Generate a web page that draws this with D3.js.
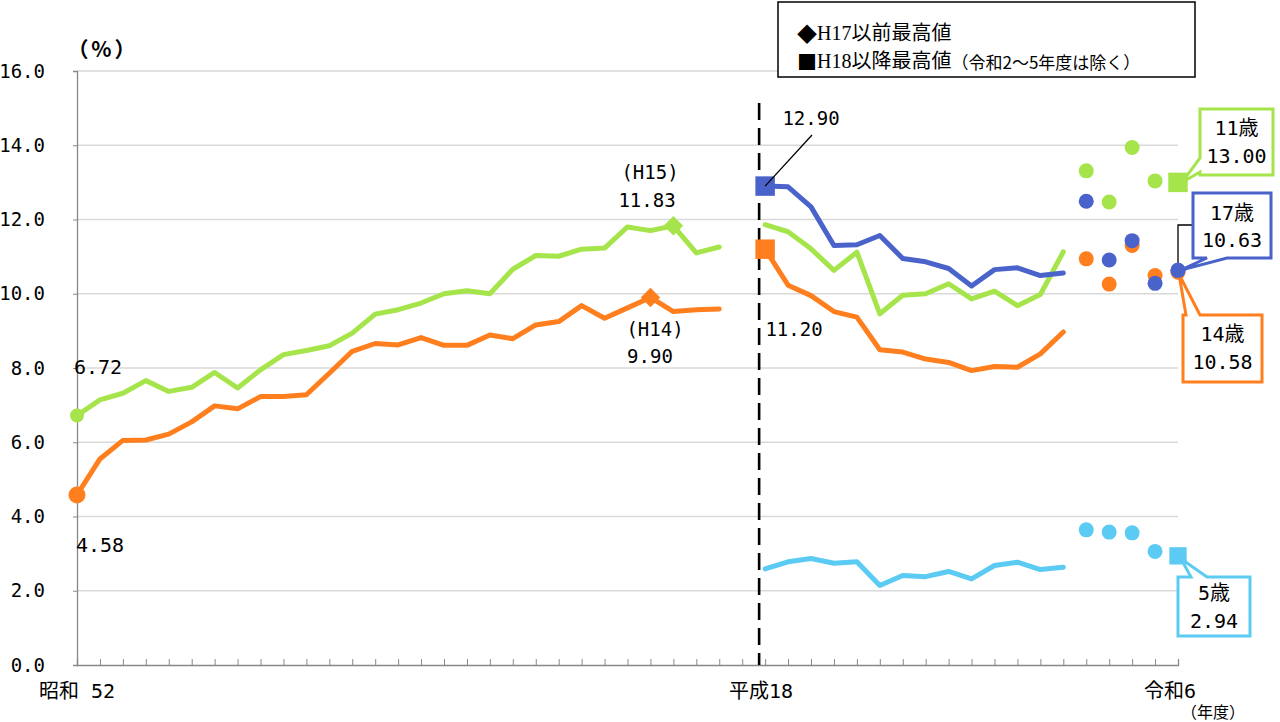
<!DOCTYPE html>
<html><head><meta charset="utf-8">
<script src="https://cdn.jsdelivr.net/npm/d3@7"></script>
<style>
html,body{margin:0;padding:0;background:#fff;}
text{font-family:"DejaVu Sans Mono","Noto Sans CJK JP",monospace;fill:#000;}
</style></head><body>
<svg id="chart" width="1280" height="722"></svg>
<script>
// ---- categories (fiscal years); "gap" is the empty slot between H17 and H18 ----
const slots = ["1977","1978","1979","1980","1981","1982","1983","1984","1985","1986","1987","1988","1989","1990","1991","1992","1993","1994","1995","1996","1997","1998","1999","2000","2001","2002","2003","2004","2005","gap","2006","2007","2008","2009","2010","2011","2012","2013","2014","2015","2016","2017","2018","2019","2020","2021","2022","2023","2024"];
const yearsPre  = ["1977","1978","1979","1980","1981","1982","1983","1984","1985","1986","1987","1988","1989","1990","1991","1992","1993","1994","1995","1996","1997","1998","1999","2000","2001","2002","2003","2004","2005"];
const yearsPost = ["2006","2007","2008","2009","2010","2011","2012","2013","2014","2015","2016","2017","2018","2019"];
const yearsCovid = ["2020","2021","2022","2023"];
const yearLatest = "2024";

// ---- series values (%) ----
const age11Pre = [6.72,7.14,7.32,7.66,7.37,7.48,7.88,7.46,7.95,8.36,8.47,8.60,8.94,9.45,9.57,9.75,10.00,10.08,10.00,10.66,11.03,11.01,11.20,11.23,11.80,11.70,11.83,11.10,11.26];
const age14Pre = [4.58,5.55,6.05,6.06,6.22,6.55,6.98,6.90,7.23,7.23,7.28,7.86,8.45,8.66,8.62,8.82,8.61,8.61,8.89,8.79,9.16,9.25,9.68,9.34,9.62,9.90,9.52,9.57,9.59];
const age11Post = [11.86,11.67,11.21,10.63,11.12,9.46,9.96,10.00,10.27,9.86,10.07,9.68,9.98,11.13];
const age14Post = [11.20,10.23,9.95,9.52,9.37,8.49,8.43,8.24,8.15,7.93,8.04,8.02,8.38,8.97];
const age17Post = [12.90,12.88,12.34,11.30,11.32,11.57,10.95,10.86,10.68,10.21,10.65,10.70,10.49,10.56];
const age5Post  = [2.59,2.78,2.87,2.74,2.78,2.14,2.41,2.38,2.52,2.32,2.68,2.77,2.57,2.63];
const age11Covid = [13.31,12.47,13.94,13.04];
const age14Covid = [10.94,10.26,11.30,10.49];
const age17Covid = [12.49,10.91,11.43,10.28];
const age5Covid  = [3.64,3.58,3.56,3.06];
const latest = {a11:13.00, a14:10.58, a17:10.63, a5:2.94};

const yTicks = [0,2,4,6,8,10,12,14,16];
const yTickLabels = ["0.0","2.0","4.0","6.0","8.0","10.0","12.0","14.0","16.0"];

const colors = {a11:"#A6E44B", a14:"#FF7F1F", a17:"#4A63CB", a5:"#5CCBF3"};

// ---- scales ----
const svg = d3.select("#chart");
const x = d3.scalePoint().domain(slots).range([77,1178]).padding(0);
const y = d3.scaleLinear().domain([0,16]).range([665,71]);

// gridlines
svg.append("g").selectAll("line").data(yTicks.filter(d=>d>0)).join("line")
  .attr("x1",77).attr("x2",1178).attr("y1",d=>y(d)).attr("y2",d=>y(d))
  .attr("stroke","#d9d9d9").attr("stroke-width",1.3);

// y axis
const yAxis = svg.append("g").attr("transform","translate(77,0)")
  .call(d3.axisLeft(y).tickValues(yTicks).tickSize(4).tickPadding(28)
    .tickFormat((d,i)=>yTickLabels[i]));
yAxis.select(".domain").attr("stroke","#888").attr("stroke-width",1.3);
yAxis.selectAll(".tick line").attr("stroke","#888");
yAxis.selectAll(".tick text").attr("font-size",19).attr("font-family","DejaVu Sans Mono").attr("fill","#000");

// x axis (ticks inward)
const xAxis = svg.append("g").attr("transform","translate(0,665)")
  .call(d3.axisBottom(x).tickSize(-6).tickFormat(""));
xAxis.select(".domain").attr("stroke","#888").attr("stroke-width",1.3);
xAxis.selectAll(".tick line").attr("stroke","#888");

// x labels
svg.append("text").attr("x",x("1977")).attr("y",691).attr("text-anchor","middle")
  .attr("dominant-baseline","central").attr("font-size",20).text("昭和 52");
svg.append("text").attr("x",x("2006")-4).attr("y",691).attr("text-anchor","middle")
  .attr("dominant-baseline","central").attr("font-size",20).text("平成18");
svg.append("text").attr("x",x("2024")-8).attr("y",691).attr("text-anchor","middle")
  .attr("dominant-baseline","central").attr("font-size",20).text("令和6");
svg.append("text").attr("x",1213).attr("y",712).attr("text-anchor","middle")
  .attr("dominant-baseline","central").attr("font-size",16).text("（年度）");
svg.append("text").attr("x",103).attr("y",48).attr("text-anchor","middle")
  .attr("dominant-baseline","central").attr("font-size",21).attr("font-weight","bold")
  .attr("letter-spacing",3).style("font-family","'Noto Sans CJK JP'").text("（%）");

// dashed separator
svg.append("line").attr("x1",x("2006")-6).attr("x2",x("2006")-6)
  .attr("y1",103).attr("y2",665).attr("stroke","#000").attr("stroke-width",2.6)
  .attr("stroke-dasharray","17,8");

// lines
const line = d3.line().x(d=>x(d[0])).y(d=>y(d[1]));
function drawLine(years, vals, color){
  svg.append("path").datum(years.map((yr,i)=>[yr,vals[i]]))
    .attr("d",line).attr("fill","none").attr("stroke",color)
    .attr("stroke-width",5).attr("stroke-linejoin","round").attr("stroke-linecap","round");
}
drawLine(yearsPre, age11Pre, colors.a11);
drawLine(yearsPre, age14Pre, colors.a14);
drawLine(yearsPost, age5Post, colors.a5);
drawLine(yearsPost, age14Post, colors.a14);
drawLine(yearsPost, age11Post, colors.a11);
drawLine(yearsPost, age17Post, colors.a17);

// covid-year dots
function dots(vals, color){
  svg.append("g").selectAll("circle").data(vals).join("circle")
    .attr("cx",(d,i)=>x(yearsCovid[i])).attr("cy",d=>y(d)).attr("r",7.5).attr("fill",color);
}
dots(age5Covid, colors.a5);
dots(age11Covid, colors.a11);
dots(age14Covid, colors.a14);
dots(age17Covid, colors.a17);

// start markers (1977)
svg.append("circle").attr("cx",x("1977")).attr("cy",y(age11Pre[0])).attr("r",7).attr("fill",colors.a11);
svg.append("circle").attr("cx",x("1977")).attr("cy",y(age14Pre[0])).attr("r",8.5).attr("fill",colors.a14);

// diamonds: max before H17
const diamond = d3.symbol().type(d3.symbolSquare).size(190);
function drawDiamond(yr, v, color){
  svg.append("path").attr("d",diamond())
    .attr("transform",`translate(${x(yr)},${y(v)}) rotate(45)`).attr("fill",color);
}
drawDiamond("2003", age11Pre[yearsPre.indexOf("2003")], colors.a11);
drawDiamond("2002", age14Pre[yearsPre.indexOf("2002")], colors.a14);

// squares: max since H18
const square = d3.symbol().type(d3.symbolSquare).size(380);
function drawSquare(yr, v, color){
  svg.append("path").attr("d",square()).attr("transform",`translate(${x(yr)},${y(v)})`).attr("fill",color);
}
drawSquare("2006", age17Post[0], colors.a17);
drawSquare("2006", age14Post[0], colors.a14);

// 2024 markers
svg.append("circle").attr("cx",x(yearLatest)).attr("cy",y(latest.a14)).attr("r",7.5).attr("fill",colors.a14);
svg.append("circle").attr("cx",x(yearLatest)).attr("cy",y(latest.a17)).attr("r",7.5).attr("fill",colors.a17);

// data labels
function label(tx, ty, t, size){
  svg.append("text").attr("x",tx).attr("y",ty).attr("text-anchor","middle")
    .attr("dominant-baseline","central").attr("font-size",size||19).text(t);
}
label(x("1977")+21, 367, "6.72", 20);
label(x("1977")+23, 545, "4.58", 20);
label(650, 172, "(H15)");
label(647, 200, "11.83");
label(655, 329, "(H14)");
label(650, 356, "9.90");
label(811, 118, "12.90");
label(794, 329, "11.20");
// leader for 12.90
svg.append("line").attr("x1",812).attr("y1",135).attr("x2",x("2006")).attr("y2",y(age17Post[0]))
  .attr("stroke","#000").attr("stroke-width",1.3);

// callouts
function callout(box, edge, b1, b2, tip, color, l1, l2, cy1, cy2){
  const [x0,y0,x1,y1] = box;
  let p;
  if(edge==="left") p = `M${x0},${y0}H${x1}V${y1}H${x0}V${b2}L${tip[0]},${tip[1]}L${x0},${b1}Z`;
  else if(edge==="top") p = `M${x0},${y0}H${b1}L${tip[0]},${tip[1]}L${b2},${y0}H${x1}V${y1}H${x0}Z`;
  else p = `M${x0},${y0}H${x1}V${y1}H${b2}L${tip[0]},${tip[1]}L${b1},${y1}H${x0}Z`;
  svg.append("path").attr("d",p).attr("fill","#fff").attr("stroke",color).attr("stroke-width",3)
    .attr("stroke-linejoin","miter");
  const cx = (x0+x1)/2;
  label(cx, cy1, l1, 20);
  label(cx, cy2, l2, 20);
}
// black leader for 17歳
svg.append("polyline").attr("points",`${x(yearLatest)},${y(latest.a17)} ${x(yearLatest)},225 1193,225`)
  .attr("fill","none").attr("stroke","#000").attr("stroke-width",1.3);

callout([1200,109,1273,175],"left",158,172,[x(yearLatest)+4,y(latest.a11)],colors.a11,"11歳","13.00",128,156);
callout([1193,193,1271,258],"bottom",1207,1227,[x(yearLatest)+2,y(latest.a17)],colors.a17,"17歳","10.63",213,240);
callout([1183,315,1262,382],"top",1186,1200,[x(yearLatest)+1,y(latest.a14)+2],colors.a14,"14歳","10.58",334,362);
callout([1178,577,1250,636],"top",1191,1207,[x(yearLatest)+3,y(latest.a5)+3],colors.a5,"5歳","2.94",593,621);

// 2024 squares drawn over callout wedges
drawSquare(yearLatest, latest.a11, colors.a11);
svg.append("path").attr("d",d3.symbol().type(d3.symbolSquare).size(300)())
  .attr("transform",`translate(${x(yearLatest)},${y(latest.a5)})`).attr("fill",colors.a5);
svg.append("circle").attr("cx",x(yearLatest)).attr("cy",y(latest.a17)).attr("r",7.5).attr("fill",colors.a17);

// legend box
svg.append("rect").attr("x",778).attr("y",2).attr("width",417).attr("height",75)
  .attr("fill","#fff").attr("stroke","#000").attr("stroke-width",1.5);
const legendFont = "'Liberation Serif','Noto Sans CJK JP',serif";
const lg = svg.append("text").attr("x",797).attr("y",33).attr("dominant-baseline","central")
  .attr("font-size",20).style("font-family",legendFont);
lg.append("tspan").style("font-family","'Noto Sans CJK JP'").text("◆");
lg.append("tspan").text("H17以前最高値");
const lg2 = svg.append("text").attr("x",797).attr("y",61).attr("dominant-baseline","central")
  .attr("font-size",20).style("font-family",legendFont);
lg2.append("tspan").style("font-family","'Noto Sans CJK JP'").text("■");
lg2.append("tspan").text("H18以降最高値");
lg2.append("tspan").attr("font-size",17).style("font-family","'Noto Sans CJK JP'").text("（令和2～5年度は除く）");
</script>
</body></html>
